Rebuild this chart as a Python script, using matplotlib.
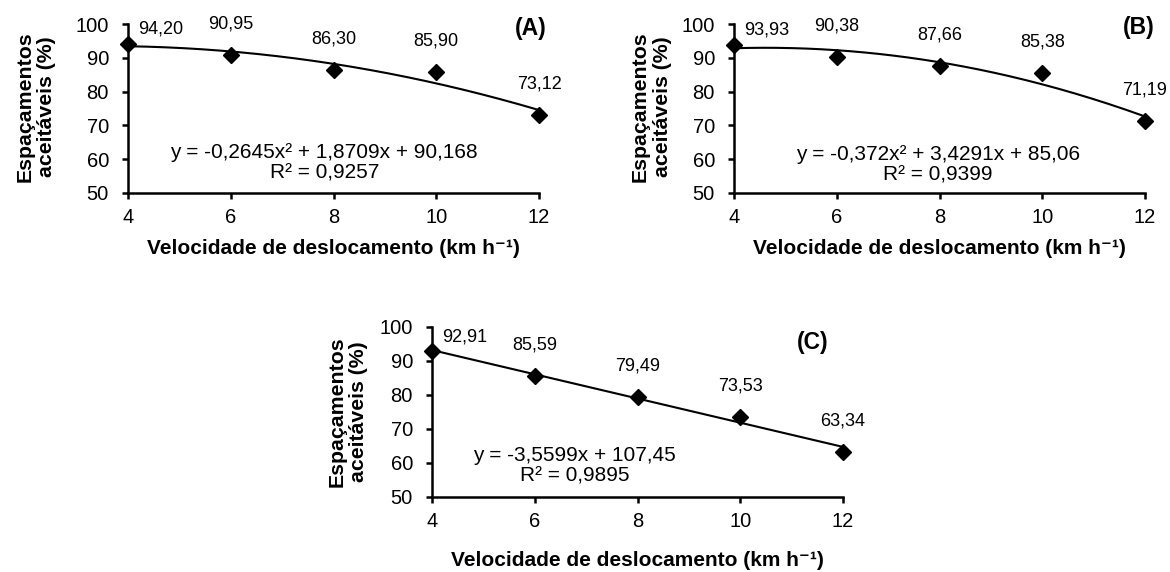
import matplotlib

matplotlib.use("Agg")
import matplotlib.pyplot as plt
import numpy as np

plt.rcParams["font.family"] = ["Liberation Sans", "DejaVu Sans"]

# speeds (km/h) and acceptable spacing (%) per panel
SPEED = [4, 6, 8, 10, 12]
ESP_A = [94.20, 90.95, 86.30, 85.90, 73.12]
ESP_B = [93.93, 90.38, 87.66, 85.38, 71.19]
ESP_C = [92.91, 85.59, 79.49, 73.53, 63.34]

EQ_A = "y = -0,2645x² + 1,8709x + 90,168\nR² = 0,9257"
EQ_B = "y = -0,372x² + 3,4291x + 85,06\nR² = 0,9399"
EQ_C = "y = -3,5599x + 107,45\nR² = 0,9895"

Y_TICKS = [50, 60, 70, 80, 90, 100]
X_TICKS = [4, 6, 8, 10, 12]

XLABEL = "Velocidade de deslocamento (km h⁻¹)"
YLABEL = "Espaçamentos\naceitáveis (%)"

W, H = 1170, 572
fig = plt.figure(figsize=(W / 100, H / 100), dpi=100)


def add_axes_px(left, top, right, bottom):
    return fig.add_axes([left / W, 1 - bottom / H, (right - left) / W, (bottom - top) / H])


def draw_panel(box, values, degree, eq, eq_pos, tag, tag_pos, xlab_pos, ylab_pos):
    ax = add_axes_px(*box)
    x = np.array(SPEED, dtype=float)
    y = np.array(values, dtype=float)
    coef = np.polyfit(x, y, degree)
    xs = np.linspace(x.min(), x.max(), 200)
    ax.plot(xs, np.polyval(coef, xs), color="black", lw=1.5, zorder=2)
    ax.plot(x, y, "D", color="black", ms=8.5, clip_on=False, zorder=3)

    for i, (xi, yi) in enumerate(zip(x, y)):
        txt = f"{yi:.2f}".replace(".", ",")
        if i == 0:
            ax.annotate(txt, (xi, yi), xytext=(7.5, 10.5), textcoords="offset points",
                        ha="left", va="center", fontsize=13)
        else:
            ax.annotate(txt, (xi, yi), xytext=(0, 22.3), textcoords="offset points",
                        ha="center", va="center", fontsize=13)

    ax.text(*eq_pos, eq, ha="center", va="center", fontsize=15,
            multialignment="center", linespacing=1.1)
    ax.text(*tag_pos, tag, ha="center", va="center", fontsize=16.5, fontweight="bold")

    ax.set_xlim(4, 12)
    ax.set_ylim(50, 100)
    ax.set_xticks(X_TICKS)
    ax.set_yticks(Y_TICKS)
    for s in ("top", "right"):
        ax.spines[s].set_visible(False)
    for s in ("left", "bottom"):
        ax.spines[s].set_linewidth(1.8)
    ax.tick_params(axis="both", direction="out", length=4, width=1.8, labelsize=14.5)
    ax.tick_params(axis="y", pad=9.7)
    ax.tick_params(axis="x", pad=6.5)

    fig.text(xlab_pos[0] / W, 1 - xlab_pos[1] / H, XLABEL, ha="center", va="center",
             fontsize=15, fontweight="bold")
    fig.text(ylab_pos[0] / W, 1 - ylab_pos[1] / H, YLABEL, ha="center", va="center",
             rotation=90, fontsize=15.3, fontweight="bold", multialignment="center",
             linespacing=1.2)
    return ax


draw_panel((128, 24, 539, 193), ESP_A, 2, EQ_A, (7.82, 59.0), "(A)", (11.84, 98.7),
           (333.5, 248), (36, 107))
draw_panel((734, 24, 1145, 193), ESP_B, 2, EQ_B, (7.97, 58.5), "(B)", (11.87, 99.1),
           (939.5, 248), (651, 107))
draw_panel((432, 327, 843, 497), ESP_C, 1, EQ_C, (6.77, 59.1), "(C)", (11.41, 95.3),
           (637.5, 560), (348, 412))

fig.savefig("out.png", dpi=100)
